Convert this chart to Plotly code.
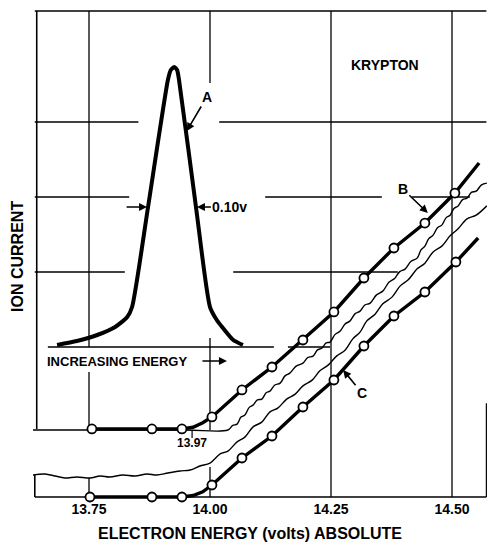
import plotly.graph_objects as go

# ---------------- data (energy in volts, ion current in arbitrary units) -------------
# Curve A: electron energy distribution peak
peak_energy = [13.684, 13.725, 13.767, 13.804, 13.829, 13.839, 13.872, 13.913, 13.919,
               13.926, 13.932, 13.936, 13.971, 14.000, 14.014, 14.025, 14.048, 14.068]
peak_current = [2.027, 2.08, 2.16, 2.267, 2.40, 2.533, 3.867, 5.56, 5.693,
                5.733, 5.693, 5.56, 3.867, 2.533, 2.36, 2.267, 2.093, 2.027]

# Curve B: measured points and drawn line
b_energy = [13.756, 13.880, 13.942, 14.004, 14.066, 14.128, 14.192, 14.256,
            14.318, 14.380, 14.444, 14.506]
b_current = [0.907, 0.907, 0.907, 1.067, 1.427, 1.733, 2.093, 2.467,
             2.920, 3.320, 3.653, 4.053]
b_line_energy = [13.756, 13.880, 13.942, 13.965, 13.985, 14.004, 14.066, 14.128, 14.192,
                 14.256, 14.318, 14.380, 14.444, 14.506, 14.556]
b_line_current = [0.907, 0.907, 0.907, 0.93, 0.99, 1.067, 1.427, 1.733, 2.093,
                  2.467, 2.920, 3.320, 3.653, 4.053, 4.453]

# Curve C: measured points and drawn line
c_energy = [13.752, 13.880, 13.942, 14.004, 14.066, 14.128, 14.192, 14.256,
            14.318, 14.380, 14.444, 14.508]
c_current = [0.0, 0.0, 0.0, 0.16, 0.52, 0.813, 1.20, 1.56,
             2.013, 2.413, 2.733, 3.133]
c_line_energy = [13.752, 13.880, 13.942, 13.965, 13.985, 14.004, 14.066, 14.128, 14.192,
                 14.256, 14.318, 14.380, 14.444, 14.508, 14.554]
c_line_current = [0.0, 0.0, 0.0, 0.02, 0.07, 0.16, 0.52, 0.813, 1.20,
                  1.56, 2.013, 2.413, 2.733, 3.133, 3.453]

# Raw recorder traces (thin wavy lines)
trace1_energy = [13.634, 13.800, 13.950, 14.037, 14.047, 14.056, 14.064, 14.072, 14.081,
                 14.089, 14.098, 14.107, 14.116, 14.124, 14.134, 14.145, 14.155, 14.165,
                 14.178, 14.192, 14.202, 14.213, 14.222, 14.231, 14.240, 14.248, 14.258,
                 14.269, 14.279, 14.289, 14.300, 14.310, 14.320, 14.331, 14.344, 14.357,
                 14.370, 14.382, 14.392, 14.403, 14.415, 14.428, 14.436, 14.444, 14.452,
                 14.461, 14.470, 14.479, 14.488, 14.496, 14.504, 14.512, 14.522, 14.531,
                 14.540, 14.550, 14.561, 14.572]
trace1_current = [0.893, 0.893, 0.893, 0.893, 0.955, 0.972, 1.065, 1.092, 1.195,
                  1.225, 1.295, 1.305, 1.39, 1.412, 1.493, 1.518, 1.615, 1.652,
                  1.745, 1.785, 1.86, 1.878, 1.961, 1.985, 2.055, 2.065, 2.165,
                  2.212, 2.308, 2.345, 2.445, 2.478, 2.56, 2.585, 2.695, 2.745,
                  2.865, 2.918, 3.005, 3.038, 3.14, 3.185, 3.295, 3.345, 3.445,
                  3.492, 3.59, 3.625, 3.725, 3.758, 3.848, 3.878, 3.965, 3.985,
                  4.062, 4.078, 4.162, 4.185]

trace2_energy = [13.634, 13.659, 13.680, 13.700, 13.725, 13.752, 13.773, 13.793, 13.820,
                 13.845, 13.870, 13.890, 13.913, 13.938, 13.959, 13.979, 14.000, 14.021,
                 14.037, 14.056, 14.072, 14.089, 14.107, 14.124, 14.140, 14.159, 14.176,
                 14.192, 14.211, 14.227, 14.244, 14.262, 14.279, 14.295, 14.310, 14.324,
                 14.341, 14.357, 14.376, 14.393, 14.409, 14.428, 14.444, 14.461, 14.479,
                 14.496, 14.512, 14.531, 14.550, 14.572]
trace2_current = [0.293, 0.307, 0.28, 0.253, 0.267, 0.253, 0.28, 0.267, 0.293,
                  0.28, 0.307, 0.293, 0.32, 0.347, 0.36, 0.413, 0.452, 0.575,
                  0.612, 0.735, 0.798, 0.935, 0.998, 1.135, 1.185, 1.308, 1.372,
                  1.482, 1.558, 1.682, 1.758, 1.882, 1.958, 2.108, 2.198, 2.348,
                  2.438, 2.575, 2.665, 2.815, 2.892, 3.042, 3.118, 3.268, 3.345,
                  3.482, 3.572, 3.708, 3.758, 3.882]

# Axis tick labels
tick_values = [13.75, 14.00, 14.25, 14.50]
tick_labels = ["13.75", "14.00", "14.25", "14.50"]

# ---------------- figure ----------------
FONT = "Liberation Sans"
X_RANGE = [13.6343, 14.5723]
Y_RANGE = [-0.0267, 6.5067]
Y_TOP = 6.48
X_L = 13.638
X_R = 14.571

fig = go.Figure()

# background grid / frame segments (drawn as shapes)
segments = [
    # frame
    (X_L, Y_TOP, X_R, Y_TOP, 1.6),
    (X_L + 0.004, 0.907, X_L + 0.004, Y_TOP, 1.6),
    (X_L, 0.0, X_L, 0.293, 1.6),
    (X_L, 0.0, X_R, 0.0, 1.6),
    (X_R, 0.0, X_R, 1.25, 1.2),
    # horizontal grid lines
    (X_L, 5.0, 13.852, 5.0, 1.3), (14.019, 5.0, X_R, 5.0, 1.3),
    (X_L, 4.0, 13.833, 4.0, 1.3), (14.114, 4.0, 14.355, 4.0, 1.3), (14.417, 4.0, 14.537, 4.0, 1.3),
    (X_L, 3.0, 13.824, 3.0, 1.3), (14.048, 3.0, 14.388, 3.0, 1.3),
    (13.665, 2.0, 14.132, 2.0, 1.6), (14.161, 2.0, 14.248, 2.0, 1.3),
    # vertical grid lines
    (13.75, 2.0, 13.75, Y_TOP, 1.3), (13.75, 0.907, 13.75, 1.667, 1.3), (13.75, 0.0, 13.75, 0.253, 1.3),
    (14.00, 5.52, 14.00, Y_TOP, 1.3), (14.00, 0.893, 14.00, 2.12, 1.3), (14.00, 0.0, 14.00, 0.40, 1.3),
    (14.25, 0.0, 14.25, Y_TOP, 1.3),
    (14.50, 0.0, 14.50, Y_TOP, 1.3),
    # 13.97 marker tick
    (13.963, 0.787, 13.963, 0.88, 1.2),
]
shapes = []
for x0, y0, x1, y1, w in segments:
    shapes.append(dict(type="line", xref="x", yref="y", x0=x0, y0=y0, x1=x1, y1=y1,
                       line=dict(color="black", width=w), layer="below"))

# thin recorder traces
for te, tc in [(trace1_energy, trace1_current), (trace2_energy, trace2_current)]:
    fig.add_trace(go.Scatter(x=te, y=tc, mode="lines",
                             line=dict(color="black", width=1.4, shape="spline", smoothing=1.0),
                             hoverinfo="skip"))

# peak A
fig.add_trace(go.Scatter(x=peak_energy, y=peak_current, mode="lines",
                         line=dict(color="black", width=4, shape="spline", smoothing=0.6),
                         hoverinfo="skip"))

# curves B and C
for le, lc in [(b_line_energy, b_line_current), (c_line_energy, c_line_current)]:
    fig.add_trace(go.Scatter(x=le, y=lc, mode="lines",
                             line=dict(color="black", width=3.4),
                             hoverinfo="skip"))
for me, mc in [(b_energy, b_current), (c_energy, c_current)]:
    fig.add_trace(go.Scatter(x=me, y=mc, mode="markers",
                             marker=dict(symbol="circle", size=9, color="white",
                                         line=dict(color="black", width=1.8)),
                             cliponaxis=False, hoverinfo="skip"))

ann_font = dict(family=FONT, color="black", weight="bold")
arrow = dict(showarrow=True, arrowhead=2, arrowsize=1, arrowwidth=1.6, arrowcolor="black")
annotations = [
    dict(x=14.362, y=5.76, text="KRYPTON", showarrow=False, font=dict(ann_font, size=14)),
    dict(x=13.952, y=4.88, ax=20, ay=-34, text="A", font=dict(ann_font, size=14), **arrow),
    dict(x=14.450, y=3.787, ax=-25, ay=-24, text="B", font=dict(ann_font, size=14), **arrow),
    dict(x=14.275, y=1.693, ax=19, ay=23, text="C", font=dict(ann_font, size=14), **arrow),
    dict(x=13.870, y=3.867, ax=-22, ay=0, text="", **arrow),
    dict(x=13.973, y=3.867, ax=33, ay=0, text="0.10v", font=dict(ann_font, size=14), **arrow),
    dict(x=13.659, y=1.813, xanchor="left", text="INCREASING ENERGY", showarrow=False,
         font=dict(ann_font, size=13)),
    dict(x=14.035, y=1.813, ax=-26, ay=0, text="", **arrow),
    dict(x=13.963, y=0.72, text="13.97", showarrow=False, font=dict(ann_font, size=12)),
    dict(xref="paper", yref="paper", x=0.478, y=-0.0694, text="ELECTRON ENERGY (volts) ABSOLUTE",
         showarrow=False, font=dict(ann_font, size=16), yanchor="middle"),
    dict(xref="paper", yref="paper", x=-0.033, y=0.494, text="ION CURRENT", textangle=-90,
         showarrow=False, font=dict(ann_font, size=16), xanchor="center", yanchor="middle"),
]

fig.update_layout(
    width=487, height=542,
    margin=dict(l=33, r=0, t=9, b=43),
    paper_bgcolor="white", plot_bgcolor="white",
    showlegend=False,
    shapes=shapes,
    annotations=annotations,
    xaxis=dict(range=X_RANGE, tickvals=tick_values, ticktext=tick_labels,
               showgrid=False, zeroline=False, showline=False, ticks="",
               tickfont=dict(family=FONT, size=14, color="black", weight="bold")),
    yaxis=dict(range=Y_RANGE, showgrid=False, zeroline=False, showline=False,
               showticklabels=False, ticks=""),
)

fig.write_html("out.html")
